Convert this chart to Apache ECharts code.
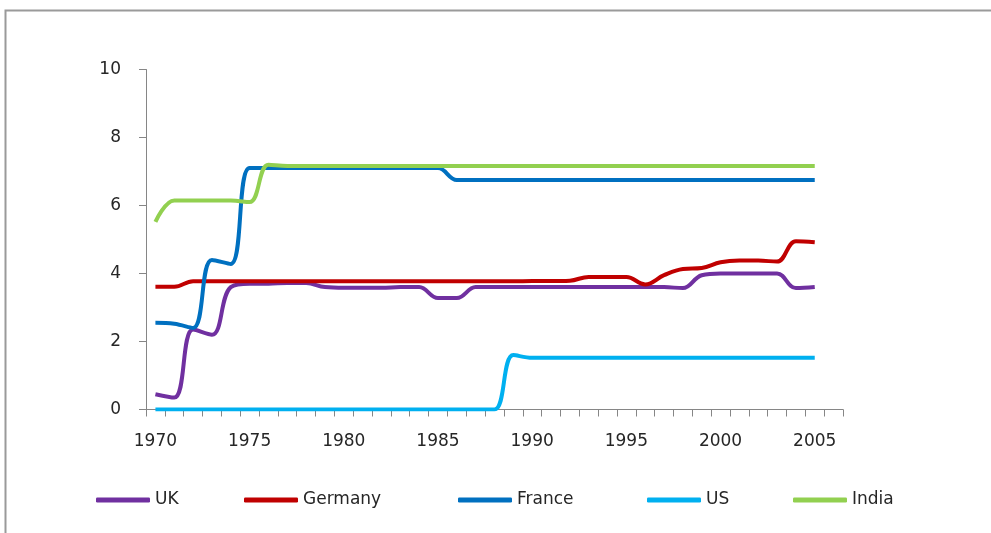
<!DOCTYPE html>
<html>
<head>
<meta charset="utf-8">
<script src="https://cdn.jsdelivr.net/npm/echarts@6/dist/echarts.min.js"></script>
<style>
  html, body { margin: 0; padding: 0; background: #fff; }
  #chart { width: 991px; height: 533px; }
</style>
</head>
<body>
<div id="chart"></div>
<script>
// categories (2006 is an empty slot at the end of the axis)
const years = []
for (let y = 1970; y <= 2006; y++) years.push(String(y))

// 1970 .. 2005
const uk = [0.45, 0.35, 2.35, 2.2, 3.6, 3.7, 3.7, 3.72, 3.72, 3.6, 3.58, 3.58, 3.58, 3.6, 3.6, 3.28, 3.28, 3.6,
  3.6, 3.6, 3.6, 3.6, 3.6, 3.6, 3.6, 3.6, 3.6, 3.6, 3.57, 3.95, 4.0, 4.0, 4.0, 4.0, 3.57, 3.6]
const germany = [3.61, 3.61, 3.77, 3.77, 3.77, 3.77, 3.77, 3.77, 3.77, 3.77, 3.77, 3.77, 3.77, 3.77, 3.77, 3.77, 3.77, 3.77,
  3.77, 3.77, 3.78, 3.78, 3.79, 3.9, 3.9, 3.9, 3.68, 3.95, 4.13, 4.16, 4.33, 4.38, 4.38, 4.35, 4.95, 4.92]
const france = [2.55, 2.52, 2.4, 4.4, 4.28, 7.1, 7.1, 7.1, 7.1, 7.1, 7.1, 7.1, 7.1, 7.1, 7.1, 7.1, 6.75, 6.75,
  6.75, 6.75, 6.75, 6.75, 6.75, 6.75, 6.75, 6.75, 6.75, 6.75, 6.75, 6.75, 6.75, 6.75, 6.75, 6.75, 6.75, 6.75]
const us = [0, 0, 0, 0, 0, 0, 0, 0, 0, 0, 0, 0, 0, 0, 0, 0, 0, 0,
  0, 1.6, 1.52, 1.52, 1.52, 1.52, 1.52, 1.52, 1.52, 1.52, 1.52, 1.52, 1.52, 1.52, 1.52, 1.52, 1.52, 1.52]
const india = [5.52, 6.15, 6.15, 6.15, 6.15, 6.1, 7.2, 7.16, 7.16, 7.16, 7.16, 7.16, 7.16, 7.16, 7.16, 7.16, 7.16, 7.16,
  7.16, 7.16, 7.16, 7.16, 7.16, 7.16, 7.16, 7.16, 7.16, 7.16, 7.16, 7.16, 7.16, 7.16, 7.16, 7.16, 7.16, 7.16]

const names = ['UK', 'Germany', 'France', 'US', 'India']
const colors = ['#7030A0', '#C00000', '#0070C0', '#00B0F0', '#92D050']
const values = [uk, germany, france, us, india]
// legend text widths so the items sit where they do in the picture
const legendTextWidths = [30, 96, 71, 28, 52]

let myChart = echarts.init(document.getElementById('chart'))
let option = {
  animation: false,
  backgroundColor: '#ffffff',
  textStyle: { fontFamily: 'DejaVu Sans' },
  graphic: [{
    type: 'rect',
    shape: { x: 5.5, y: 10.5, width: 1100, height: 700 },
    style: { fill: 'none', stroke: '#9a9a9a', lineWidth: 2 },
    silent: true
  }],
  grid: { left: 146, right: 148, top: 69.5, bottom: 123.5 },
  legend: {
    left: 96,
    top: 489,
    padding: 0,
    icon: 'roundRect',
    itemWidth: 54,
    itemHeight: 5,
    itemGap: 59,
    textStyle: { fontSize: 17, color: '#262626', lineHeight: 22 },
    data: names.map((n, i) => ({ name: n, textStyle: { width: legendTextWidths[i] } }))
  },
  xAxis: {
    type: 'category',
    data: years,
    boundaryGap: true,
    axisLine: { lineStyle: { color: '#868686', width: 1 } },
    axisTick: { show: true, interval: 0, length: 7, lineStyle: { color: '#868686' } },
    axisLabel: { interval: 4, margin: 24, fontSize: 17, color: '#262626' }
  },
  yAxis: {
    type: 'value',
    min: 0,
    max: 10,
    interval: 2,
    splitLine: { show: false },
    axisLine: { show: true, lineStyle: { color: '#868686', width: 1 } },
    axisTick: { show: true, length: 7, lineStyle: { color: '#868686' } },
    axisLabel: { margin: 25, fontSize: 17, color: '#262626' }
  },
  series: names.map((n, i) => ({
    name: n,
    type: 'line',
    data: values[i],
    smooth: 0.4,
    showSymbol: false,
    symbol: 'none',
    lineStyle: { width: 4, color: colors[i] },
    itemStyle: { color: colors[i] }
  }))
}
myChart.setOption(option)
</script>
</body>
</html>
